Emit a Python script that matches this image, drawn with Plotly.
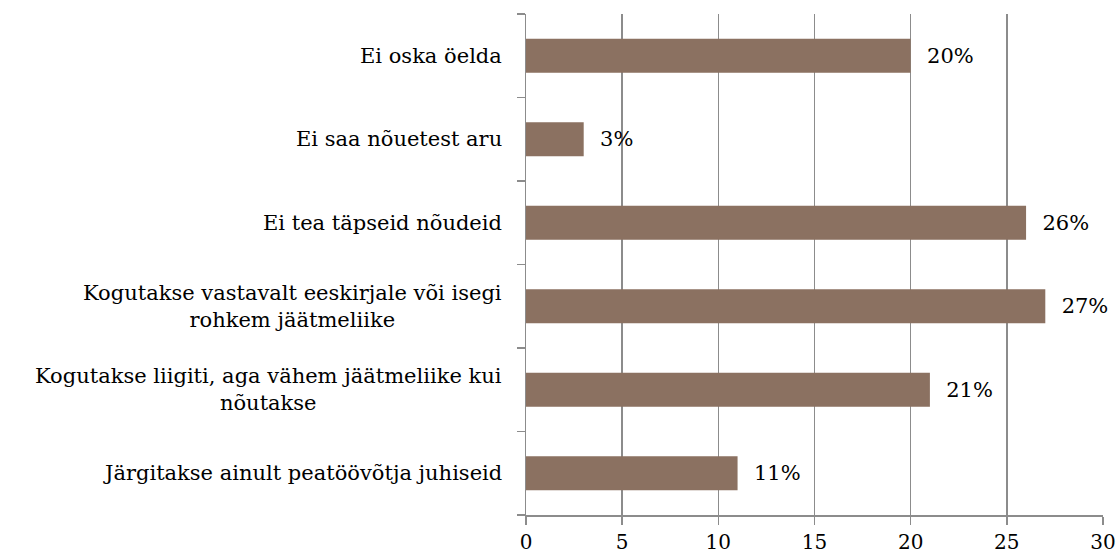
import plotly.graph_objects as go

categories = [
    "Järgitakse ainult peatöövõtja juhiseid",
    "Kogutakse liigiti, aga vähem jäätmeliike kui<br>nõutakse",
    "Kogutakse vastavalt eeskirjale või isegi<br>rohkem jäätmeliike",
    "Ei tea täpseid nõudeid",
    "Ei saa nõuetest aru",
    "Ei oska öelda",
]
values = [11, 21, 27, 26, 3, 20]
x_ticks = [0, 5, 10, 15, 20, 25, 30]

FONT = "DejaVu Serif"
GRID = "#8c8c8c"

fig = go.Figure()
fig.add_trace(go.Bar(
    y=list(range(len(categories))),
    x=values,
    orientation="h",
    marker=dict(color="#8b7161", line=dict(width=0)),
    width=0.41,
    text=["\u00a0\u00a0" + f"{v}%" for v in values],
    textposition="outside",
    textfont=dict(family=FONT, size=21, color="#000000"),
    cliponaxis=False,
    hoverinfo="skip",
))

for i, c in enumerate(categories):
    fig.add_annotation(
        x=0, xref="paper", y=i, yref="y",
        text=c, showarrow=False, xanchor="right", yanchor="middle",
        align="center", xshift=-22,
        font=dict(family=FONT, size=21, color="#000000"),
    )

fig.update_layout(
    width=1117, height=556,
    margin=dict(l=526, r=14, t=14, b=41, autoexpand=False),
    paper_bgcolor="white", plot_bgcolor="white",
    showlegend=False,
    xaxis=dict(
        range=[0, 30], tickvals=x_ticks, ticktext=[str(t) for t in x_ticks],
        showgrid=True, gridcolor=GRID, gridwidth=1.5,
        showline=True, linecolor=GRID, linewidth=1.5,
        ticks="outside", ticklen=8, tickcolor=GRID, tickwidth=1.5,
        tickfont=dict(family=FONT, size=20, color="#000000"),
        zeroline=False, fixedrange=True, automargin=False,
    ),
    yaxis=dict(
        range=[-0.5, len(categories) - 0.5],
        tickvals=[i - 0.5 for i in range(len(categories) + 1)],
        showticklabels=False,
        showgrid=False, zeroline=False,
        showline=True, linecolor=GRID, linewidth=1.5,
        ticks="outside", ticklen=8, tickcolor=GRID, tickwidth=1.5,
        fixedrange=True, automargin=False,
    ),
)

fig.write_html(
    "out.html",
    config={"displayModeBar": False, "staticPlot": True},
    post_script="document.body.style.margin='0';document.body.style.overflow='hidden';",
)
